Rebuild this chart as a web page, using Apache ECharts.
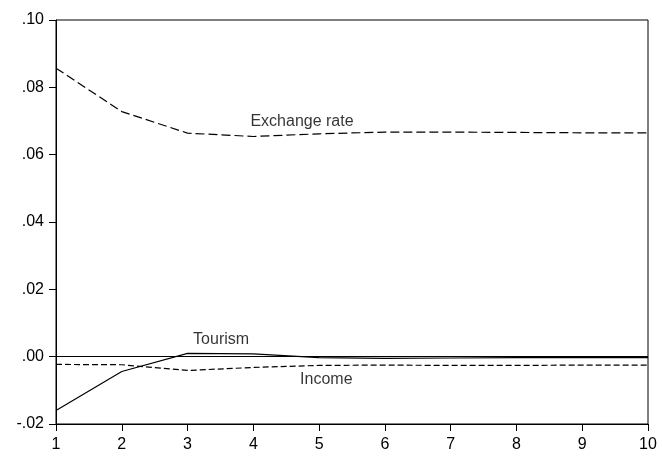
<!DOCTYPE html>
<html>
<head>
<meta charset="utf-8">
<script src="https://cdn.jsdelivr.net/npm/echarts@6/dist/echarts.min.js"></script>
<style>
  html, body { margin: 0; padding: 0; background: #fff; }
  #chart { width: 663px; height: 456px; }
</style>
</head>
<body>
<div id="chart"></div>
<script>
// Response horizon (periods)
const periods = [1, 2, 3, 4, 5, 6, 7, 8, 9, 10];

// Impulse responses
const exchangeRate = [0.0857, 0.0728, 0.0664, 0.0654, 0.0662, 0.0667, 0.0667, 0.0666, 0.0665, 0.0665];
const tourism      = [-0.0160, -0.0044, 0.0010, 0.0008, -0.0003, -0.0005, -0.0004, -0.0003, -0.0003, -0.0003];
const income       = [-0.0023, -0.0024, -0.0041, -0.0032, -0.0026, -0.0025, -0.0026, -0.0026, -0.0025, -0.0025];

// Y axis ticks
const yTicks = [-0.02, 0.00, 0.02, 0.04, 0.06, 0.08, 0.10];

// Inline series labels: [name, period, value]
const seriesLabels = [
  ['Exchange rate', 4.74, 0.0698],
  ['Tourism', 3.51, 0.0051],
  ['Income', 5.11, -0.0068]
];

const FONT = '"Liberation Sans", Arial, sans-serif';

function pairs(arr) { return periods.map((p, i) => [p, arr[i]]); }

function fmtY(v) {
  const s = v.toFixed(2);
  return s.replace(/^(-?)0\./, '$1.');
}

const chart = echarts.init(document.getElementById('chart'), null, { renderer: 'canvas' });

const lineBase = { type: 'line', symbol: 'none', silent: true, animation: false };

chart.setOption({
  backgroundColor: '#fff',
  animation: false,
  grid: {
    left: 56, right: 15, top: 20, bottom: 32,
    show: true, borderColor: '#000', borderWidth: 1, backgroundColor: 'transparent'
  },
  xAxis: {
    type: 'value', min: 1, max: 10, interval: 1,
    axisLine: { show: true, onZero: false, lineStyle: { color: '#000', width: 1 } },
    axisTick: { show: true, inside: false, length: 7, lineStyle: { color: '#000' } },
    axisLabel: { color: '#000', fontFamily: FONT, fontSize: 16, margin: 13 },
    splitLine: { show: false }
  },
  yAxis: {
    type: 'value', min: yTicks[0], max: yTicks[yTicks.length - 1], interval: 0.02,
    axisLine: { show: true, onZero: false, lineStyle: { color: '#000', width: 1 } },
    axisTick: { show: true, inside: false, length: 7, lineStyle: { color: '#000' } },
    axisLabel: { color: '#000', fontFamily: FONT, fontSize: 16, margin: 12, formatter: fmtY },
    splitLine: { show: false }
  },
  series: [
    Object.assign({}, lineBase, {
      name: 'Exchange rate',
      data: pairs(exchangeRate),
      lineStyle: { color: '#000', width: 1.2, type: [9, 4] }
    }),
    Object.assign({}, lineBase, {
      name: 'Tourism',
      data: pairs(tourism),
      lineStyle: { color: '#000', width: 1.2, type: 'solid' },
      markLine: {
        silent: true, symbol: 'none', animation: false,
        label: { show: false },
        lineStyle: { color: '#000', width: 1, type: 'solid' },
        data: [{ yAxis: 0 }]
      }
    }),
    Object.assign({}, lineBase, {
      name: 'Income',
      data: pairs(income),
      lineStyle: { color: '#000', width: 1.2, type: [6, 3] }
    }),
    {
      type: 'scatter', silent: true, animation: false,
      symbolSize: 0,
      data: seriesLabels.map(l => ({ value: [l[1], l[2]], name: l[0] })),
      label: {
        show: true, position: 'inside', formatter: p => p.name,
        color: '#000', fontFamily: FONT, fontSize: 16
      }
    }
  ]
});
</script>
</body>
</html>
